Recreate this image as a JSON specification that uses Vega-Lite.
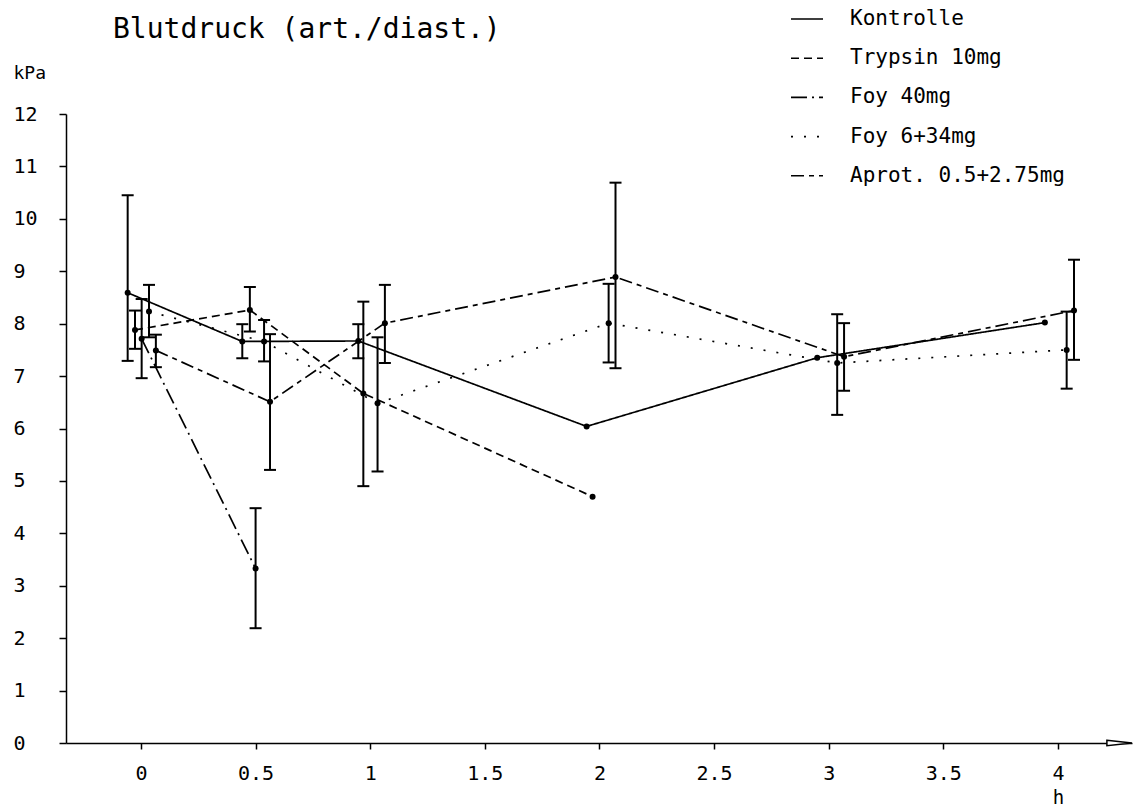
{
  "$schema": "https://vega.github.io/schema/vega-lite/v6.json",
  "width": 1066,
  "height": 629,
  "autosize": {"type": "none"},
  "padding": {"left": 66, "top": 114, "right": 12, "bottom": 64},
  "background": "white",
  "config": {"view": {"stroke": null}, "font": "DejaVu Sans Mono"},
  "title": {"text": "Blutdruck (art./diast.)", "anchor": "start", "frame": "group", "dx": 47, "dy": 64, "fontSize": 28, "fontWeight": "normal", "font": "DejaVu Sans Mono", "color": "black", "baseline": "alphabetic", "offset": 0},
  "datasets": {
    "d": [
      {"s": "Kontrolle", "x": -0.058, "y": 8.59, "lo": 7.29, "hi": 10.45},
      {"s": "Kontrolle", "x": 0.442, "y": 7.66, "lo": 7.34, "hi": 7.99},
      {"s": "Kontrolle", "x": 0.948, "y": 7.67, "lo": 7.34, "hi": 7.99},
      {"s": "Kontrolle", "x": 1.944, "y": 6.04, "lo": null, "hi": null},
      {"s": "Kontrolle", "x": 2.95, "y": 7.35, "lo": null, "hi": null},
      {"s": "Kontrolle", "x": 3.943, "y": 8.02, "lo": null, "hi": null},
      {"s": "Trypsin 10mg", "x": -0.026, "y": 7.88, "lo": 7.52, "hi": 8.25},
      {"s": "Trypsin 10mg", "x": 0.475, "y": 8.26, "lo": 7.85, "hi": 8.7},
      {"s": "Trypsin 10mg", "x": 0.97, "y": 6.67, "lo": 4.9, "hi": 8.42},
      {"s": "Trypsin 10mg", "x": 1.97, "y": 4.7, "lo": null, "hi": null},
      {"s": "Foy 40mg", "x": 0.003, "y": 7.71, "lo": 6.96, "hi": 8.47},
      {"s": "Foy 40mg", "x": 0.5, "y": 3.33, "lo": 2.19, "hi": 4.48},
      {"s": "Foy 6+34mg", "x": 0.035, "y": 8.23, "lo": 7.74, "hi": 8.74},
      {"s": "Foy 6+34mg", "x": 0.537, "y": 7.66, "lo": 7.28, "hi": 8.07},
      {"s": "Foy 6+34mg", "x": 1.032, "y": 6.48, "lo": 5.18, "hi": 7.74},
      {"s": "Foy 6+34mg", "x": 2.04, "y": 8.01, "lo": 7.26, "hi": 8.76},
      {"s": "Foy 6+34mg", "x": 3.037, "y": 7.25, "lo": 6.26, "hi": 8.18},
      {"s": "Foy 6+34mg", "x": 4.038, "y": 7.5, "lo": 6.76, "hi": 8.23},
      {"s": "Aprot. 0.5+2.75mg", "x": 0.065, "y": 7.49, "lo": 7.17, "hi": 7.79},
      {"s": "Aprot. 0.5+2.75mg", "x": 0.563, "y": 6.51, "lo": 5.21, "hi": 7.8},
      {"s": "Aprot. 0.5+2.75mg", "x": 1.064, "y": 8.01, "lo": 7.25, "hi": 8.74},
      {"s": "Aprot. 0.5+2.75mg", "x": 2.07, "y": 8.89, "lo": 7.15, "hi": 10.69},
      {"s": "Aprot. 0.5+2.75mg", "x": 3.067, "y": 7.37, "lo": 6.72, "hi": 8.01},
      {"s": "Aprot. 0.5+2.75mg", "x": 4.07, "y": 8.25, "lo": 7.31, "hi": 9.22}
    ],
    "arrow": [{"x": 4.268, "y": 0}]
  },
  "layer": [
    {
      "data": {"name": "d"},
      "mark": {"type": "line", "color": "black", "strokeWidth": 1.7, "strokeCap": "butt"},
      "encoding": {
        "x": {"field": "x", "type": "quantitative", "scale": {"domain": [-0.327, 4.323], "nice": false, "zero": false},
          "axis": {"values": [0, 0.5, 1, 1.5, 2, 2.5, 3, 3.5, 4], "format": ".1~f", "grid": false, "tickSize": 6, "tickWidth": 1.5, "tickColor": "black", "domainColor": "black", "domainWidth": 1.5, "labelPadding": 14, "labelBaseline": "top", "labelFontSize": 20, "labelColor": "black", "labelFont": "DejaVu Sans Mono", "labelFlush": false, "labelOverlap": false, "title": "h", "titleX": 992, "titleY": 54, "titleAlign": "center", "titleBaseline": "middle", "titleFontSize": 19, "titleFontWeight": "normal", "titleColor": "black", "titleFont": "DejaVu Sans Mono"}},
        "y": {"field": "y", "type": "quantitative", "scale": {"domain": [0, 12], "nice": false},
          "axis": {"values": [0, 0.5, 1, 1.5, 2, 2.5, 3, 3.5, 4, 4.5, 5, 5.5, 6, 6.5, 7, 7.5, 8, 8.5, 9, 9.5, 10, 10.5, 11, 11.5, 12], "labelExpr": "datum.value % 1 === 0 ? datum.label : ''", "grid": false, "tickSize": {"condition": {"test": "datum.value % 1 !== 0", "value": 4}, "value": 7}, "tickWidth": 1.5, "tickColor": "black", "domainColor": "black", "domainWidth": 1.5, "labelAlign": "left", "labelPadding": 46, "labelBaseline": "middle", "labelFontSize": 20, "labelColor": "black", "labelFont": "DejaVu Sans Mono", "labelFlush": false, "labelOverlap": false, "title": "kPa", "titleAngle": 0, "titleX": -53, "titleY": -41, "titleAlign": "left", "titleBaseline": "middle", "titleFontSize": 18, "titleFontWeight": "normal", "titleColor": "black", "titleFont": "DejaVu Sans Mono"}},
        "detail": {"field": "s"},
        "strokeDash": {"field": "s", "type": "nominal",
          "scale": {"domain": ["Kontrolle", "Trypsin 10mg", "Foy 40mg", "Foy 6+34mg", "Aprot. 0.5+2.75mg"], "range": [[1, 0], [8, 5], [16, 5, 2, 5], [2, 11], [13, 5, 5, 5]]},
          "legend": {"orient": "none", "legendX": 724, "legendY": -112, "title": null, "padding": 0, "symbolType": "stroke", "symbolSize": 1024, "symbolStrokeColor": "black", "symbolStrokeWidth": 1.6, "labelOffset": 26, "labelFontSize": 21, "labelColor": "black", "labelFont": "DejaVu Sans Mono", "rowPadding": 12.2, "labelLimit": 400}}
      }
    },
    {
      "data": {"name": "d"},
      "transform": [{"filter": "datum.lo != null"}],
      "mark": {"type": "rule", "color": "black", "strokeWidth": 2},
      "encoding": {
        "x": {"field": "x", "type": "quantitative"},
        "y": {"field": "lo", "type": "quantitative"},
        "y2": {"field": "hi"}
      }
    },
    {
      "data": {"name": "d"},
      "transform": [{"filter": "datum.lo != null"}],
      "mark": {"type": "tick", "orient": "horizontal", "color": "black", "size": 12, "thickness": 2, "opacity": 1},
      "encoding": {
        "x": {"field": "x", "type": "quantitative"},
        "y": {"field": "lo", "type": "quantitative"}
      }
    },
    {
      "data": {"name": "d"},
      "transform": [{"filter": "datum.hi != null"}],
      "mark": {"type": "tick", "orient": "horizontal", "color": "black", "size": 12, "thickness": 2, "opacity": 1},
      "encoding": {
        "x": {"field": "x", "type": "quantitative"},
        "y": {"field": "hi", "type": "quantitative"}
      }
    },
    {
      "data": {"name": "d"},
      "mark": {"type": "point", "filled": true, "color": "black", "size": 36, "opacity": 1},
      "encoding": {
        "x": {"field": "x", "type": "quantitative"},
        "y": {"field": "y", "type": "quantitative"}
      }
    },
    {
      "data": {"name": "arrow"},
      "mark": {"type": "point", "shape": "M-1,-0.22L1,0L-1,0.22Z", "filled": true, "fill": "white", "stroke": "black", "strokeWidth": 1.5, "size": 625, "opacity": 1},
      "encoding": {
        "x": {"field": "x", "type": "quantitative"},
        "y": {"field": "y", "type": "quantitative"}
      }
    }
  ]
}
